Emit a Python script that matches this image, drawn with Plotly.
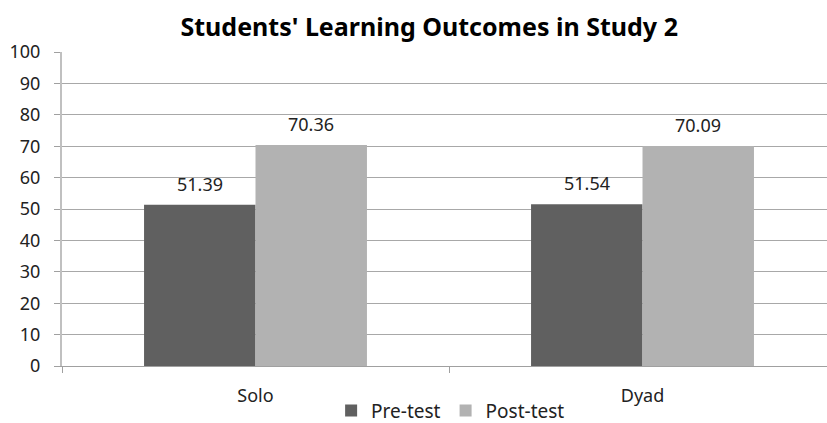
import plotly.graph_objects as go

categories = ["Solo", "Dyad"]
pre_test = [51.39, 51.54]
post_test = [70.36, 70.09]
series_names = ["Pre-test", "Post-test"]
series_colors = ["#606060", "#b2b2b2"]
y_ticks = list(range(0, 101, 10))

FONT = "Noto Sans"
fig = go.Figure()
for name, vals, col in zip(series_names, [pre_test, post_test], series_colors):
    fig.add_trace(go.Bar(x=categories, y=vals, name=name, marker=dict(color=col, line=dict(width=0))))

# data labels above bars
bargap = 0.424
bar_w = (1 - bargap) / 2
for si, vals in enumerate([pre_test, post_test]):
    off = (si - 0.5) * bar_w
    for ci, v in enumerate(vals):
        fig.add_annotation(x=ci + off, y=v, text=f"{v:.2f}", showarrow=False,
                           yshift=21, font=dict(family=FONT, size=18, color="#222"),
                           xref="x", yref="y")

fig.update_layout(
    width=827, height=423,
    margin=dict(l=62, r=0, t=52, b=57, autoexpand=False),
    paper_bgcolor="white", plot_bgcolor="white",
    barmode="group", bargap=bargap, bargroupgap=0,
    title=dict(text="<b>Students' Learning Outcomes in Study 2</b>", x=0.519, xanchor="center",
               y=0.935, yanchor="middle", font=dict(family=FONT, size=25, color="#000")),
    font=dict(family=FONT, size=18, color="#222"),
    legend=dict(orientation="h", x=0.508, xanchor="center", y=-0.142, yanchor="middle",
                font=dict(family=FONT, size=19, color="#222"), traceorder="normal"),
    showlegend=True,
)
fig.update_xaxes(type="category", range=[-0.5, 1.4767], tickson="boundaries", ticks="outside",
                 ticklen=6, tickcolor="#a0a0a0", showline=True, linecolor="#a0a0a0", linewidth=1,
                 showgrid=False, ticklabelstandoff=13, automargin=False,
                 tickfont=dict(family=FONT, size=18, color="#222"))
fig.update_yaxes(range=[0, 100], tickvals=y_ticks, ticks="outside", ticklen=6, tickcolor="#a0a0a0",
                 showline=True, linecolor="#c0c0c0", linewidth=2, showgrid=True, gridcolor="#a8a8a8",
                 gridwidth=1, zeroline=False, automargin=False,
                 tickfont=dict(family=FONT, size=18, color="#222"), ticklabelstandoff=10)

fig.write_html("out.html", config={"displayModeBar": False},
               post_script="document.body.style.margin='0';document.body.style.overflow='hidden';")
